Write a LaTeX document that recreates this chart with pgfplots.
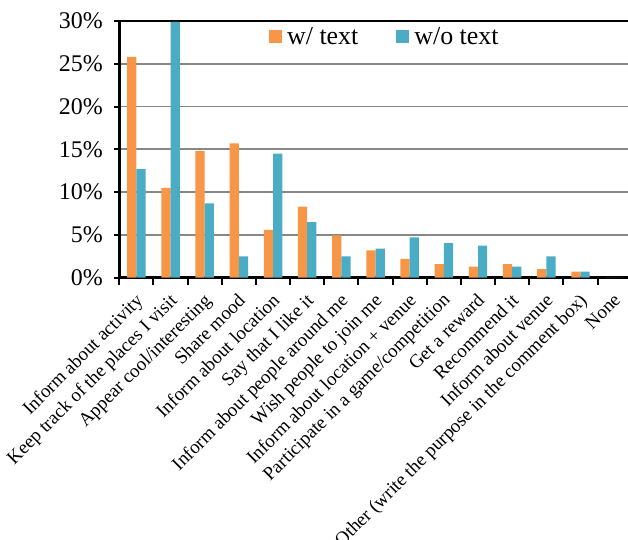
\documentclass[border=0pt]{standalone}
\usepackage{pgfplots}
\pgfplotsset{compat=1.18}
\usepackage{fontspec}
\setmainfont{Liberation Serif}
\definecolor{worange}{HTML}{F79646}
\definecolor{woblue}{HTML}{4BACC6}
\definecolor{gridgray}{HTML}{878787}

\begin{document}
\begin{tikzpicture}
\begin{axis}[
    scale only axis,
    width=508.7bp,
    height=256.7bp,
    xmin=-0.5, xmax=14.39,
    ymin=0, ymax=30,
    ybar,
    bar width=0.27,
    axis x line=box,
    axis y line=left,
    axis line style={line width=2.5bp, black, -},
    xtick pos=left,
    xtick={0,...,14},
    major x tick style={draw=none},
    minor xtick={-0.5,0.5,...,14.5},
    minor tick length=7bp,
    minor x tick style={line width=2bp, black},
    ytick={0,5,...,30},
    ytick pos=left,
    major tick length=5bp,
    tick align=outside,
    major y tick style={line width=2bp, black},
    ymajorgrids,
    grid style={gridgray, line width=1.8bp},
    /pgf/number format/assume math mode=true,
    yticklabel={\pgfmathprintnumber{\tick}\%},
    yticklabel style={font=\fontsize{24}{28}\selectfont, xshift=-8bp},
    xticklabels={Inform about activity, Keep track of the places I visit, Appear cool/interesting, Share mood, Inform about location, Say that I like it, Inform about people around me, Wish people to join me, Inform about location + venue, Participate in a game/competition, Get a reward, Recommend it, Inform about venue, Other (write the purpose in the comment box), None},
    xticklabel style={font=\fontsize{19}{23}\selectfont, xshift=-2bp, yshift=-8bp, rotate=45, anchor=north east, inner sep=1bp},
    legend columns=2,
    legend style={draw=none, fill=none, at={(0.522,0.938)}, anchor=center,
        font=\fontsize{26}{30}\selectfont,
        /tikz/every odd column/.append style={column sep=3bp},
        /tikz/every even column/.append style={column sep=36bp}},
]
\addplot[fill=worange, draw=none, bar shift=-0.135,
    legend image code/.code={\fill[worange] (0bp,-6.5bp) rectangle (13bp,6.5bp);}]
    coordinates {(0,25.8) (1,10.5) (2,14.8) (3,15.7) (4,5.6) (5,8.3) (6,4.95) (7,3.2) (8,2.2) (9,1.6) (10,1.3) (11,1.6) (12,1.0) (13,0.7) (14,0)};
\addplot[fill=woblue, draw=none, bar shift=0.135,
    legend image code/.code={\fill[woblue] (0bp,-6.5bp) rectangle (13bp,6.5bp);}]
    coordinates {(0,12.7) (1,29.9) (2,8.7) (3,2.5) (4,14.5) (5,6.5) (6,2.5) (7,3.4) (8,4.7) (9,4.05) (10,3.75) (11,1.3) (12,2.5) (13,0.7) (14,0)};
\legend{w/ text, w/o text}
\end{axis}
\pgfresetboundingbox
\path[use as bounding box] ([xshift=-119.3bp,yshift=-262.3bp]current axis.south west) rectangle ([yshift=21bp]current axis.north east);
\end{tikzpicture}
\end{document}
